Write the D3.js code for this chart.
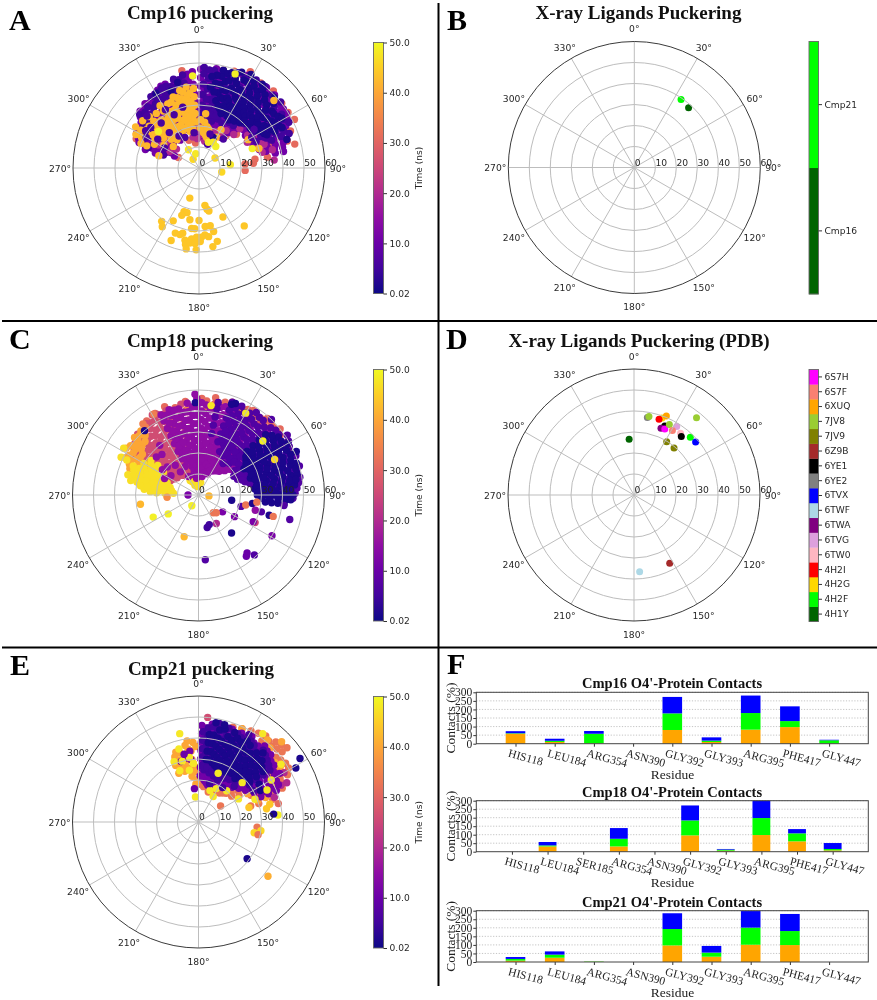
<!DOCTYPE html>
<html><head><meta charset="utf-8">
<script src="https://cdn.jsdelivr.net/npm/d3@7"></script>
<style>html,body{margin:0;padding:0;background:#fff}svg{display:block;filter:blur(0.6px)}</style>
</head><body><svg id="c" width="877" height="1000"></svg>
<script>
const polarAngles=[0,30,60,90,120,150,180,210,240,270,300,330];
const radialTicks=[0,10,20,30,40,50,60];
const timeTicks=[0.02,10,20,30,40,50];
// rows: [time ns, theta deg, [r values]]  in drawing order
const cmp16Points=[
[31,350,[47]],[31,14,[48,44]],[31,20,[49]],[31,28,[52]],[31,36,[50]],[31,44,[51]],[31,52,[50]],[31,58,[50,46]],[31,63,[51,44]],[31,68,[47,40]],[31,73,[44,36]],[31,76,[47,32]],[31,81,[33,27]],[31,85,[22,26]],[31,93,[22]],[31,58,[28,34]],[31,48,[24,29]],[31,40,[20,24]],[31,295,[27,33]],[31,303,[25,31]],[31,290,[21]],[31,297,[11]],[31,340,[14]],[31,352,[12]],
[11,1,[15,19,23,27,31,35,39,43,47]],[11,7,[15,18,22,26,30,34,38,42,46]],[11,13,[14,18,22,26,30,34,38,42,47]],[11,19,[16,20,24,28,32,36,40,44]],[11,25,[17,20,24,28,32,36,40,44,49]],[11,31,[19,23,27,31,35,39,43,47]],[11,37,[20,24,28,32,36,40,44,49]],[11,43,[25,29,33,37,41,45,48]],[11,49,[28,31,35,39,43,47]],[11,55,[27,31,35,39,43,47,49]],[11,61,[29,33,37,41,45,48]],[11,67,[28,32,36,40,44]],[11,73,[30,34,38,42]],[11,79,[37,41]],
[11,4,[17,21,25,29,33,37,41,45]],[11,10,[16,20,24,28,32,36,40,44,48]],[11,16,[15,20,24,28,32,36,40,44]],[11,22,[18,22,26,30,34,38,42,46]],[11,28,[18,22,26,30,34,38,42,46,50]],[11,34,[21,25,29,33,37,41,45,49]],[11,40,[22,26,30,34,38,42,46,50]],[11,46,[27,31,35,39,43,47,50]],[11,52,[29,33,37,41,45,49]],[11,58,[29,33,37,41,45,49]],[11,64,[30,34,38,42,46]],[11,70,[30,34,38,42]],[11,76,[33,37,41]],
[11,356,[16,20,24,28,32,36,40,44,46]],[11,350,[17,21,25,29,33,37,41,44]],[11,344,[19,23,27,31,35,39,43]],[11,338,[20,24,28,32,36,40,43]],[11,332,[18,22,26,30,34,38,42]],[11,326,[16,20,24,28,32,36,40]],[11,320,[18,22,26,30,34,38,40]],[11,314,[17,21,25,29,33,36,39]],[11,308,[16,20,24,28,32,35]],[11,302,[15,19,23,27,31,33]],[11,296,[13,17,21,25,29,32]],[11,289,[22,27]],
[11,353,[18,22,26,30,34,38,42,45]],[11,347,[19,23,27,31,35,39,43]],[11,341,[21,25,29,33,37,41]],[11,335,[20,24,28,32,36,40,43]],[11,329,[18,22,26,30,34,38,41]],[11,323,[20,24,28,32,36,39]],[11,317,[19,23,27,31,35,38]],[11,311,[18,22,26,30,34,37]],[11,305,[17,21,25,29,33]],[11,299,[15,19,23,27,31,34]],[11,293,[20,24,28,31]],
[20,62,[26,30,34]],[20,70,[29,33]],[20,76,[31,36]],[20,84,[36]],[20,46,[23,27]],[20,36,[18,22]],[20,24,[15,19]],[20,12,[13,17]],[20,357,[14,18]],[20,349,[15,19]],[20,300,[16,22]],[20,310,[14,20]],[20,66,[31]],[20,56,[28]],[20,30,[20]],[20,6,[16]],
[5,350,[37,41,45]],[5,344,[36,40,44]],[5,338,[35,39,42]],[5,332,[37,41]],[5,326,[37,41]],[5,320,[34,38]],[5,312,[30,34,38]],[5,304,[27,32]],[5,298,[24,30]],[5,292,[26]],[5,347,[39,43]],[5,341,[37,41]],[5,335,[38,42]],[5,329,[39]],[5,323,[36]],[5,316,[33,37]],[5,308,[29,33]],
[5,3,[26,30,35,40,45,48]],[5,9,[24,29,33,38,43,47]],[5,15,[23,28,32,36,41,46]],[5,21,[25,29,34,39,44,48]],[5,27,[24,28,33,38,43,48]],[5,33,[26,30,35,40,45,50]],[5,39,[26,31,36,41,46,50]],[5,45,[30,35,39,44,49]],[5,51,[31,36,41,46,50]],[5,57,[32,37,42,47]],[5,63,[33,38,43,48]],[5,69,[37,42,46]],[5,6,[28,33,38,43,47]],[5,12,[26,31,36,41,45]],[5,18,[26,30,35,40,45]],[5,60,[36,41,46]],[5,66,[35,40,44]],
[1,14,[33,37,41,45,48]],[1,17,[31,35,39,43,47]],[1,19,[30,35,39,44,48]],[1,22,[28,32,36,41,46,49]],[1,24,[31,35,40,44,50]],[1,27,[29,33,38,42,47]],[1,29,[28,33,37,42,47,51]],[1,32,[27,31,35,40,45,49]],[1,34,[29,34,38,43,47]],[1,37,[28,32,36,41,46,50]],[1,39,[30,34,39,44,48]],[1,42,[29,33,37,42,47]],[1,44,[31,35,40,45]],[1,47,[31,35,39,44,49]],[1,49,[33,37,42,47]],[1,52,[31,35,39,44]],[1,54,[31,35,40,44]],[1,57,[33,37,41,45]],[1,59,[34,38,42,46]],[1,62,[35,39,43]],[1,64,[36,40,44]],[1,72,[44]],[1,346,[42]],[1,330,[41]],[1,340,[39]],[1,11,[37,41,45]],[1,8,[39,44]],
[42,356,[22,26,30,34,38]],[42,351,[19,23,27,31,35,39]],[42,346,[18,22,26,30,34,38]],[42,340,[20,24,28,32,36]],[42,334,[18,22,26,30,34]],[42,328,[20,24,28,32,35]],[42,322,[17,21,25,29,33]],[42,316,[19,23,27,31,34]],[42,310,[16,22,26,31,35]],[42,303,[20,25,29,33,36]],[42,298,[24,31,34]],[42,293,[27,30]],[42,7,[17,22,26]],[42,14,[15,19]],[42,30,[17,21]],[42,48,[48]],[42,72,[30]],[42,60,[27]],
[42,353,[24,28,32,36]],[42,348,[21,25,29,33,37]],[42,343,[20,24,28,32,35]],[42,337,[22,26,30,34]],[42,331,[22,26,30]],[42,325,[19,23,27]],[42,319,[21,25,29]],[42,313,[25,29]],[42,306,[27,31]],[42,2,[19,23]],[42,11,[16,20]],
[6,320,[28,22]],[6,335,[16,28]],[6,305,[24,31]],[6,20,[12]],[6,300,[19]],[6,345,[30]],[6,315,[35]],[6,290,[18]],[1,25,[16]],[6,55,[32]],[6,65,[30]],[6,328,[18]],[6,352,[17]],[6,40,[18]],[6,60,[29]],[6,310,[30]],[6,330,[32]],[6,300,[29]],[6,18,[17]],
[49,312,[26]],[49,356,[44]],[49,21,[48]],[49,38,[13]],[49,70,[27]],[48,29,[14]],[48,20,[13]],[48,84,[15]],[46,100,[11]],[46,58,[9]],[46,326,[5]],[43,287,[20]],[48,330,[10]],[48,347,[7]],
[44,197,[15]],[44,171,[18]],[44,169,[20]],[44,167,[21]],[44,199,[22]],[44,195,[22]],[44,200,[24]],[44,190,[25]],[44,154,[26]],[44,215,[31]],[44,206,[28]],[44,180,[25]],[44,212,[33]],[44,174,[28]],[44,169,[28]],[44,142,[35]],[44,187,[29]],[44,184,[29]],[44,194,[32]],[44,200,[33]],[44,196,[33]],[44,175,[32]],[44,167,[31]],[44,172,[33]],[44,201,[37]],[44,191,[35]],[44,186,[34]],[44,182,[33]],[44,178,[33]],[44,190,[37]],[44,187,[36]],[44,183,[36]],[44,179,[35]],[44,166,[36]],[44,170,[38]],[44,189,[39]],[44,182,[39]]
];
const cmp18Points=[
[31,345,[43]],[31,352,[45]],[31,358,[43]],[31,5,[45]],[31,10,[44,47]],[31,16,[46]],[31,24,[46,43]],[31,30,[47]],[31,36,[46]],[31,42,[47,49]],[31,48,[48]],[31,54,[48]],[31,58,[47]],[31,63,[48]],[31,339,[45]],[31,332,[44]],[31,325,[43]],[31,2,[46]],[31,13,[44]],[31,20,[47]],[31,27,[46]],[31,33,[48]],[31,39,[47]],[31,45,[49]],[31,51,[50]],
[26,352,[12,16,20,24,28,32,36,40]],[26,345,[10,14,18,22,26,30,34,38,42]],[26,339,[12,16,20,24,28,32,36,40,43]],[26,333,[11,15,19,23,27,31,35,39,43]],[26,327,[13,17,21,25,29,33,37,41]],[26,321,[12,16,20,24,28,32,36,40]],[26,315,[14,18,22,26,30,34,38,41]],[26,309,[13,17,21,25,29,33,37,39]],[26,303,[14,18,22,26,30,34,36]],[26,297,[15,20,25,30]],[26,20,[42,45]],[26,40,[44]],
[26,349,[12,16,20,24,28,32,36,40,44]],[26,342,[14,18,22,26,30,34,38,42]],[26,336,[14,18,22,26,30,34,38,42]],[26,330,[13,17,21,25,29,33,37,41,44]],[26,324,[15,19,23,27,31,35,39,42]],[26,318,[16,20,24,28,32,36,40]],[26,312,[16,20,24,28,32,36,39]],[26,306,[15,19,23,27,31,35,38]],[26,300,[16,20,24,28,32,35]],
[34,322,[41,43]],[34,331,[44]],[34,10,[42]],[34,25,[42]],[34,46,[46]],[34,52,[45]],[34,60,[47]],[34,352,[41]],[34,5,[41]],[34,35,[43]],
[40,318,[38,41]],[40,312,[36,39,41]],[40,306,[33,37,40]],[40,300,[30,34,38]],[40,294,[29,33,36]],[40,288,[26,30]],[40,315,[36,40]],[40,309,[35,38]],[40,303,[33,37,41]],[40,297,[32,36,39]],[40,291,[31,35]],
[47,302,[42]],[47,296,[38,41]],[47,286,[32,35]],[47,294,[20,24,27,31,34]],[47,288,[18,22,25,28,32]],[47,282,[16,20,24,27,30,33]],[47,276,[15,19,23,26]],[47,300,[22,26,30]],[47,306,[24,28]],[47,274,[12,23]],[47,340,[5,8]],[47,350,[6,9]],[47,358,[5,8]],[47,10,[6]],[47,330,[8]],
[47,291,[16,20,23,26,30,33]],[47,285,[14,18,22,26,29]],[47,279,[13,17,21,25,28]],[47,297,[18,22,25,29]],[47,303,[20,24,27]],[47,273,[16,20]],[47,345,[7]],[47,353,[4,10]],[47,335,[7]],
[15,335,[15,19,23,27,31,35,39,42]],[15,341,[17,20,24,28,32,36,40,43]],[15,347,[10,14,18,22,26,30,34,38,42]],[15,353,[8,12,16,20,24,28,32,36,40,44]],[15,359,[10,14,18,22,26,30,34,38,42,46]],[15,5,[11,15,19,23,27,31,35,39,43]],[15,11,[9,13,17,21,25,29,33,37,41]],[15,17,[12,16,20,24,28,32,36,40,44]],[15,23,[11,15,19,23,27,31,35,39,44]],[15,29,[13,17,21,25,29,33,37,41]],[15,35,[14,18,22,26,30,34,38,42]],[15,41,[15,19,23,27,31,35,39,43]],[15,47,[17,21,25,29,33,37,41,45]],[15,53,[20,24,28,32,36,40,44]],[15,312,[20,27]],[15,322,[30,18,14]],[15,305,[16,21]],[15,318,[26]],[15,296,[18]],[15,358,[48]],[15,332,[10]],
[15,338,[21,25,29,33,37,41]],[15,344,[22,26,30,34,38,42]],[15,350,[12,16,20,24,28,32,36,40]],[15,356,[10,14,18,22,26,30,34,38,42]],[15,2,[12,16,20,24,28,32,36,40,44]],[15,8,[13,17,21,25,29,33,37,41]],[15,14,[11,15,19,23,27,31,35,39,43]],[15,20,[14,18,22,26,30,34,38,42]],[15,26,[13,17,21,25,29,33,37,41]],[15,32,[15,19,23,27,31,35,39,43]],[15,38,[16,20,24,28,32,36,40]],[15,44,[17,21,25,29,33,37,41]],[15,50,[19,23,27,31,35,39,43]],
[7,12,[30,34,38,42,45]],[7,20,[27,31,35,39,43,47]],[7,26,[23,27,31,35,39,43,47]],[7,32,[22,26,30,34,38,42,46]],[7,38,[19,23,27,31,35,39,43,47]],[7,44,[21,25,29,33,37,41,45,50]],[7,50,[24,28,32,36,40,44,48]],[7,56,[21,25,29,33,37,41,45,51]],[7,62,[19,23,27,31,35,39,43,49]],[7,68,[20,24,28,32,36,40,44,50]],[7,74,[23,27,31,35,39,43,47,50]],[7,80,[27,31,35,39,43,47,49]],[7,86,[28,32,36,40,44,47]],[7,92,[30,34,38,41,45]],
[7,23,[29,33,37,41,45]],[7,29,[25,29,33,37,41,45]],[7,35,[24,28,32,36,40,44,48]],[7,41,[23,27,31,35,39,43,47]],[7,47,[23,27,31,35,39,43,47]],[7,53,[24,28,32,36,40,44,48]],[7,59,[23,27,31,35,39,43,47,50]],[7,65,[22,26,30,34,38,42,46]],[7,71,[22,26,30,34,38,42,46]],[7,77,[25,29,33,37,41,45,48]],[7,83,[29,33,37,41,45,48]],[7,89,[30,34,38,42,46]],
[1,48,[31,35,39,43]],[1,54,[28,32,36,40,44,47]],[1,60,[25,29,33,37,41,45,49]],[1,66,[28,32,36,40,44,48,51]],[1,72,[26,30,34,38,42,46,49]],[1,78,[29,33,37,41,45,48]],[1,84,[27,31,35,39,43,46]],[1,90,[28,32,36,39,42,45]],[1,96,[32,35,38,41]],[1,358,[44]],[1,22,[47]],[1,20,[46]],[1,320,[40]],
[1,51,[29,33,37,41,45]],[1,57,[27,31,35,39,43,47]],[1,63,[27,31,35,39,43,47]],[1,69,[27,31,35,39,43,47]],[1,75,[28,32,36,40,44,48]],[1,81,[28,32,36,40,44,47]],[1,87,[29,33,37,41,44]],[1,93,[30,34,38,42,44]],
[1,99,[16]],[7,105,[21]],[33,102,[23]],[1,99,[26]],[33,97,[28]],[7,105,[31]],[15,105,[28]],[1,106,[35]],[33,106,[37]],[7,105,[45]],[7,97,[41]],[12,119,[40]],[25,116,[30]],[12,116,[29]],[12,121,[20]],[1,139,[24]],[7,137,[39]],[10,140,[36]],[10,142,[37]],[7,174,[31]],[20,148,[16]],[5,165,[16]],[5,160,[15]],[12,125,[14]],[33,140,[11]],[33,135,[12]],[42,199,[21]],[49,212,[6]],[49,238,[17]],[49,244,[24]],[42,261,[28]],[36,266,[15]],[42,95,[5]],[12,270,[5]],[48,30,[45]],[46,65,[40]],[49,50,[40]],[48,8,[43]]
];
const cmp21Points=[
[26,5,[50]],
[33,3,[18,24,45]],[33,10,[47]],[33,20,[48]],[33,30,[50]],[33,38,[52,49]],[33,44,[53,50]],[33,50,[52,48,55]],[33,56,[50,46]],[33,62,[48,44]],[33,68,[43,38,31]],[33,73,[30,26,37]],[33,52,[20,24,29]],[33,44,[19,23]],[33,36,[17,21]],[33,28,[16,19]],[33,18,[15,19]],[33,8,[17]],[33,355,[24,28]],[33,54,[13]],[33,25,[49]],[33,34,[51]],[33,41,[51]],[33,47,[51,54]],[33,53,[49]],[33,59,[46,50]],[33,65,[44,40]],[33,48,[25,21]],[33,57,[27,23]],[33,63,[32,28]],[33,40,[18]],[33,32,[17]],
[40,347,[28,32]],[40,342,[27,31,35]],[40,338,[25,29]],[40,352,[22,26,35,39]],[40,356,[18,38]],[40,25,[49]],[40,40,[51]],[40,46,[55]],[40,56,[42,47]],[40,66,[40,36]],[40,60,[27,31]],[40,350,[30,33,37]],[40,345,[25,30,34]],[40,340,[29,33]],[40,354,[24,30,34]],[40,358,[20,26,36]],[40,70,[34,30]],[40,44,[49]],[40,52,[46]],
[11,2,[22,26,30,34,38,42,46]],[11,8,[20,24,28,32,36,40,44,47]],[11,14,[18,22,26,30,34,38,42,46]],[11,20,[19,23,27,31,35,39,43,47]],[11,26,[19,23,27,31,35,39,43,47]],[11,32,[20,24,28,32,36,40,44,48]],[11,38,[22,26,30,34,38,42,46]],[11,44,[23,27,31,35,39,43,47]],[11,50,[25,29,33,37,41,45]],[11,56,[27,31,35,39,43]],[11,62,[30,34,38,42]],[11,68,[32,36,40]],[11,353,[30,34]],[11,349,[31]],[11,344,[30]],[20,66,[43,46]],[20,72,[38]],[20,60,[47]],
[11,5,[21,25,29,33,37,41,45]],[11,11,[19,23,27,31,35,39,43,47]],[11,17,[21,25,29,33,37,41,45]],[11,23,[21,25,29,33,37,41,45]],[11,29,[22,26,30,34,38,42,46]],[11,35,[22,26,30,34,38,42,46]],[11,41,[24,28,32,36,40,44,48]],[11,47,[25,29,33,37,41,45,47]],[11,53,[27,31,35,39,43,45]],[11,59,[30,34,38,42,45]],[11,65,[34,38,42]],
[5,6,[25,29,33,37,41,45]],[5,12,[24,28,32,36,40,44,48]],[5,18,[23,27,31,35,39,43,47]],[5,24,[22,26,30,34,38,42,46]],[5,30,[24,28,32,36,40,44,48]],[5,36,[25,29,33,37,41,45]],[5,42,[26,30,34,38,42,46]],[5,48,[28,32,36,40,44]],[5,54,[30,34,38,42]],[5,3,[27,31,35,39,43]],[5,9,[26,30,34,38,42,46]],[5,15,[25,29,33,37,41,45]],[5,21,[24,28,32,36,40,44]],[5,27,[25,29,33,37,41,45]],[5,33,[26,30,34,38,42,46]],[5,39,[27,31,35,39,43]],[5,45,[29,33,37,41,45]],[5,51,[31,35,39,43]],
[1,7,[30,34,38,42]],[1,10,[30,34,38,42]],[1,13,[29,33,37,41,45]],[1,16,[28,32,36,40,46]],[1,19,[27,31,35,39,43]],[1,22,[26,30,34,38,42,46]],[1,25,[28,32,36,40,44]],[1,28,[27,31,35,39,43]],[1,31,[29,33,37,41,45]],[1,34,[28,32,36,40,44]],[1,37,[29,33,37,41]],[1,40,[27,31,35,39,43]],[1,43,[29,33,37,41,45]],[1,46,[30,34,38,42]],[1,49,[32,36,40]],[1,52,[31,35,39]],[1,58,[57]],[1,61,[53]],[1,63,[33]],[1,58,[34]],[1,15,[48]],[1,10,[48]],
[48,345,[36]],[48,338,[31]],[48,340,[26]],[48,355,[28]],[48,350,[25]],[48,348,[43]],[48,353,[12]],[48,30,[14]],[48,48,[28]],[48,28,[18]],[48,20,[16]],[48,60,[22,40]],[48,68,[29]],[48,55,[48]],[48,36,[52]],[48,22,[25]],[48,345,[30]],[48,352,[31]],[48,42,[20]],[48,65,[36]],
[10,353,[16]],[5,16,[19]],[5,45,[24]],[5,60,[30]],[5,35,[20]],[10,348,[33]],
[44,79,[33]],[44,76,[35]],[31,77,[39]],[49,85,[38]],[1,84,[36]],[33,95,[28]],[46,101,[27]],[46,98,[30]],[33,102,[29]],[1,127,[29]],[41,128,[42]],[44,74,[25]]
];
const xrayLabels=["Cmp16","Cmp21"];
const xrayColors=["#006400","#00ff00"];
const xrayTheta=[42.3,34.5];
const xrayR=[38.4,39.3];
const pdbCodes=["4H1Y","4H2F","4H2G","4H2I","6TW0","6TVG","6TWA","6TWF","6TVX","6YE2","6YE1","6Z9B","7JV9","7JV8","6XUQ","6S7F","6S7H"];
const pdbColors=["#006400","#00ff00","#ffd700","#ff0000","#ffb6c1","#dda0dd","#800080","#add8e6","#0000ff","#808080","#000000","#a52a2a","#808000","#9acd32","#ffa500","#fa8072","#ff00ff"];
// [code, theta, r]
const pdbPoints=[["6YE2",9.8,37.4],["7JV8",10.8,38],["7JV8",39,47.3],["4H1Y",355,26.6],["4H2G",20,39],["6XUQ",22.3,40.6],["4H2I",18.3,38],["6YE1",24,36],["6TWA",22,34.3],["6S7H",25,34.7],["7JV8",26.6,37.6],["6TVG",32,38.4],["6S7F",30.8,35.7],["6TW0",37,36.8],["6YE1",39,35.8],["4H2F",44.3,38.4],["6TVX",49.3,38.7],["7JV9",31.5,29.8],["7JV9",40.4,29.4],["6Z9B",152.4,36.7],["6TWF",175.8,36.6]];
const contactTicks=[0,50,100,150,200,250,300];
const residues16=["HIS118","LEU184","ARG354","ASN390","GLY392","GLY393","ARG395","PHE417","GLY447"];
const orange16=[58,10,2,0,80,10,82,97,1];
const green16=[3,7,56,0,97,8,97,35,19];
const blue16=[12,12,16,0,96,19,102,86,3];
const residues18=["HIS118","LEU184","SER185","ARG354","ASN390","GLY392","GLY393","ARG395","PHE417","GLY447"];
const orange18=[0,31,0,31,0,96,6,98,61,8];
const green18=[0,6,0,45,0,88,6,100,47,8];
const blue18=[0,20,0,63,0,88,4,102,25,35];
const residues21=["HIS118","LEU184","ARG354","ASN390","GLY392","GLY393","ARG395","PHE417","GLY447"];
const orange21=[8,25,1,0,97,31,101,99,0];
const green21=[10,18,2,0,96,24,100,82,0];
const blue21=[11,19,0,0,92,39,97,100,0];
const stackColors={orange:"#ffa500",green:"#00ff00",blue:"#0000ff"};

const sans="'DejaVu Sans',sans-serif", serif="'Liberation Serif',serif";
const svg=d3.select("#c");
const defs=svg.append("defs");
const rScale=d3.scaleLinear().domain([0,60]).range([0,126]);
const plasma=d3.scaleSequential(d3.interpolatePlasma).domain([0.02,50]);
const rad=d=>d*Math.PI/180;
const MR=3.7;

function polar(cx,cy,drawMarks){
  const g=svg.append("g").attr("transform",`translate(${cx},${cy})`);
  g.append("circle").attr("r",rScale(60)).attr("fill","#fff");
  drawMarks(g.append("g"));
  const grid=g.append("g").attr("stroke","#bdbdbd").attr("fill","none").attr("stroke-width",1);
  grid.selectAll("circle").data(radialTicks.slice(1,-1)).join("circle").attr("r",d=>rScale(d));
  grid.selectAll("line").data(polarAngles).join("line").attr("x2",d=>d3.pointRadial(rad(d),rScale(60))[0]).attr("y2",d=>d3.pointRadial(rad(d),rScale(60))[1]);
  g.append("circle").attr("r",rScale(60)).attr("fill","none").attr("stroke","#3a3a3a").attr("stroke-width",1);
  g.selectAll("text.a").data(polarAngles).join("text").attr("class","a").attr("font-family",sans).attr("font-size",9.2).attr("fill","#262626")
    .attr("text-anchor","middle").attr("dominant-baseline","central")
    .attr("x",d=>d3.pointRadial(rad(d),139)[0]).attr("y",d=>d3.pointRadial(rad(d),139)[1]).text(d=>d+"°");
  g.selectAll("text.r").data(radialTicks).join("text").attr("class","r").attr("font-family",sans).attr("font-size",9.2).attr("fill","#262626")
    .attr("text-anchor","middle").attr("dominant-baseline","central")
    .attr("x",d=>rScale(d)+(d?6:3.5)).attr("y",-5.3).text(d=>d);
}
function flat(rows){const o=[];rows.forEach(([t,th,rs])=>rs.forEach(r=>o.push({t,th,r})));return o;}
function scatter(rows){return g=>{
  g.selectAll("circle").data(flat(rows)).join("circle").attr("r",MR).attr("fill",d=>plasma(d.t))
   .attr("cx",d=>d3.pointRadial(rad(d.th),rScale(d.r))[0]).attr("cy",d=>d3.pointRadial(rad(d.th),rScale(d.r))[1]);
};}
function frameAxis(g,axis){
  const a=g.append("g").attr("transform","translate(10,0)").call(axis);
  a.select(".domain").remove();
  a.selectAll("line").attr("stroke","#333");
  a.selectAll("text").attr("font-family",sans).attr("font-size",9.1).attr("fill","#262626");
}
let gid=0;
function timeBar(x,y0,y1,label){
  const id="g"+(gid++);
  const lg=defs.append("linearGradient").attr("id",id).attr("x1",0).attr("x2",0).attr("y1",1).attr("y2",0);
  d3.range(0,1.001,0.1).forEach(s=>lg.append("stop").attr("offset",s).attr("stop-color",d3.interpolatePlasma(s)));
  const g=svg.append("g").attr("transform",`translate(${x},0)`);
  g.append("rect").attr("y",y0).attr("width",10).attr("height",y1-y0).attr("fill",`url(#${id})`).attr("stroke","#666").attr("stroke-width",0.9);
  const s=d3.scaleLinear().domain([0.02,50]).range([y1,y0]);
  frameAxis(g,d3.axisRight(s).tickValues(timeTicks).tickSize(3.5).tickPadding(2.5).tickFormat(d=>d===0.02?"0.02":d.toFixed(1)));
  g.append("text").attr("transform",`translate(45,${(y0+y1)/2}) rotate(-90)`).attr("text-anchor","middle").attr("dominant-baseline","central")
   .attr("font-family",sans).attr("font-size",9).attr("fill","#262626").text(label);
}
function catBar(x,y0,y1,names,colors){
  const s=d3.scaleBand().domain(names.slice().reverse()).range([y0,y1]);
  const g=svg.append("g").attr("transform",`translate(${x},0)`);
  g.selectAll("rect").data(names).join("rect").attr("y",d=>s(d)).attr("width",9.5).attr("height",s.bandwidth()+0.3).attr("fill",(d,i)=>colors[i]);
  g.append("rect").attr("y",y0).attr("width",9.5).attr("height",y1-y0).attr("fill","none").attr("stroke","#666").attr("stroke-width",0.9);
  const a=g.append("g").attr("transform","translate(9.5,0)").call(d3.axisRight(s).tickSize(3.5).tickPadding(2.5));
  a.select(".domain").remove();
  a.selectAll("line").attr("stroke","#333");
  a.selectAll("text").attr("font-family",sans).attr("font-size",9.1).attr("fill","#262626");
}
function title(x,y,t){svg.append("text").attr("x",x).attr("y",y).attr("text-anchor","middle").attr("font-family",serif).attr("font-weight","bold").attr("font-size",19).attr("fill","#111").text(t);}
function letter(x,y,t){svg.append("text").attr("x",x).attr("y",y).attr("font-family",serif).attr("font-weight","bold").attr("font-size",30).attr("fill","#000").text(t);}

// Dividers
[[438.5,3,438.5,986],[2,321,877,321],[2,647.5,877,647.5]].forEach(l=>svg.append("line").attr("x1",l[0]).attr("y1",l[1]).attr("x2",l[2]).attr("y2",l[3]).attr("stroke","#000").attr("stroke-width",2));

polar(199,168,scatter(cmp16Points));
timeBar(373.5,42.5,293.5,"Time (ns)");
polar(198.5,495,scatter(cmp18Points));
timeBar(373.5,369.5,621,"Time (ns)");
polar(198.5,822,scatter(cmp21Points));
timeBar(373.5,696.5,948,"Time (ns)");

polar(634.3,167.5,g=>{
  g.selectAll("circle").data(xrayLabels).join("circle").attr("r",MR-0.2).attr("fill",(d,i)=>xrayColors[i])
   .attr("cx",(d,i)=>d3.pointRadial(rad(xrayTheta[i]),rScale(xrayR[i]))[0]).attr("cy",(d,i)=>d3.pointRadial(rad(xrayTheta[i]),rScale(xrayR[i]))[1]);
});
catBar(809,41.5,294,xrayLabels,xrayColors);
polar(634,495,g=>{
  g.selectAll("circle").data(pdbPoints).join("circle").attr("r",MR-0.2).attr("fill",d=>pdbColors[pdbCodes.indexOf(d[0])])
   .attr("cx",d=>d3.pointRadial(rad(d[1]),rScale(d[2]))[0]).attr("cy",d=>d3.pointRadial(rad(d[1]),rScale(d[2]))[1]);
});
catBar(809,369.5,621.5,pdbCodes,pdbColors);

title(200,19,"Cmp16 puckering");title(638.5,19,"X-ray Ligands Puckering");
title(200,347,"Cmp18 puckering");title(639,347,"X-ray Ligands Puckering (PDB)");
title(201,675,"Cmp21 puckering");
letter(9,30,"A");letter(447,30,"B");letter(9,349,"C");letter(446,349,"D");letter(10,675,"E");letter(447,674,"F");

function contacts(top,bottom,names,o,gr,b,ttl,titleY,xlabelY){
  const x=d3.scaleLinear().domain([-1,names.length]).range([476.3,868.3]);
  const y=d3.scaleLinear().domain([0,300]).range([bottom,top]);
  const g=svg.append("g");
  g.append("g").selectAll("line").data(contactTicks.slice(1)).join("line").attr("x1",x.range()[0]).attr("x2",x.range()[1]).attr("y1",y).attr("y2",y)
   .attr("stroke","#b5b5b5").attr("stroke-width",0.8).attr("stroke-dasharray","1.2 1.6");
  const table=names.map((n,i)=>({i,orange:o[i],green:gr[i],blue:b[i]}));
  const series=d3.stack().keys(["orange","green","blue"])(table);
  const bw=x(0.5)-x(0);
  g.selectAll("g.s").data(series).join("g").attr("class","s").attr("fill",d=>stackColors[d.key])
   .selectAll("rect").data(d=>d).join("rect").attr("x",d=>x(d.data.i)-bw/2).attr("width",bw)
   .attr("y",d=>y(d[1])).attr("height",d=>Math.max(0,y(d[0])-y(d[1])));
  const xa=g.append("g").attr("transform",`translate(0,${bottom})`).call(d3.axisBottom(x).tickValues(names.map((n,i)=>i)).tickSize(3).tickFormat(i=>names[i]));
  xa.select(".domain").remove();
  xa.selectAll("line").attr("stroke","#333");
  xa.selectAll("text").attr("font-family",serif).attr("font-size",11.5).attr("fill","#222").attr("text-anchor","start").attr("x",0).attr("y",0).attr("dy","0.8em").attr("transform","translate(-6,4) rotate(15)");
  const ya=g.append("g").attr("transform",`translate(${x.range()[0]},0)`).call(d3.axisLeft(y).tickValues(contactTicks).tickSize(3).tickPadding(1));
  ya.select(".domain").remove();
  ya.selectAll("line").attr("stroke","#333");
  ya.selectAll("text").attr("font-family",serif).attr("font-size",11.5).attr("fill","#222");
  g.append("rect").attr("x",x.range()[0]).attr("y",top).attr("width",x.range()[1]-x.range()[0]).attr("height",bottom-top).attr("fill","none").attr("stroke","#444").attr("stroke-width",1);
  g.append("text").attr("x",672).attr("y",titleY).attr("text-anchor","middle").attr("dominant-baseline","central").attr("font-family",serif).attr("font-weight","bold").attr("font-size",14.5).attr("fill","#111").text(ttl);
  g.append("text").attr("x",672.5).attr("y",xlabelY).attr("text-anchor","middle").attr("dominant-baseline","central").attr("font-family",serif).attr("font-size",13.5).attr("fill","#222").text("Residue");
  g.append("text").attr("transform",`translate(450,${(top+bottom)/2}) rotate(-90)`).attr("text-anchor","middle").attr("dominant-baseline","central").attr("font-family",serif).attr("font-size",13.5).attr("fill","#222").text("Contacts (%)");
}
contacts(692.3,743.7,residues16,orange16,green16,blue16,"Cmp16 O4'-Protein Contacts",683,774);
contacts(800.7,851.7,residues18,orange18,green18,blue18,"Cmp18 O4'-Protein Contacts",791.7,882.7);
contacts(910.7,962,residues21,orange21,green21,blue21,"Cmp21 O4'-Protein Contacts",901.7,992.7);
</script></body></html>
